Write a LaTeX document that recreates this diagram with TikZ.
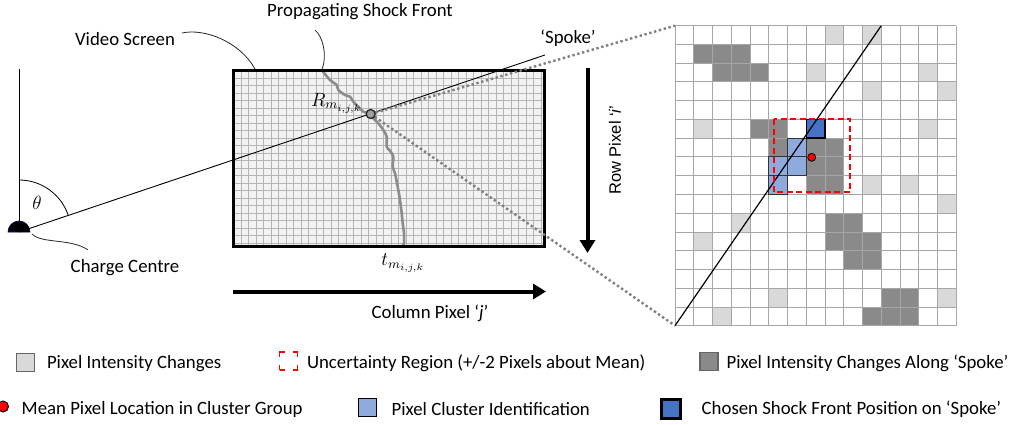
\documentclass[tikz,border=0pt]{standalone}
\usepackage{graphicx}
\usepackage{fontspec}
\setmainfont{Carlito}
\newfontfamily\arialf{Liberation Sans}
\usetikzlibrary{arrows.meta}
\definecolor{lgcell}{HTML}{D9D9D9}
\definecolor{dgcell}{HTML}{8A8A8A}
\definecolor{lbcell}{HTML}{8FAADC}
\definecolor{dbcell}{HTML}{4472C4}
\definecolor{gridc}{HTML}{A6A6A6}
\definecolor{scrgrid}{HTML}{B5B5B5}
\definecolor{scrfill}{HTML}{F2F2F2}
\definecolor{shockc}{HTML}{8C8C8C}
\definecolor{dotc}{HTML}{808080}
\newcommand{\bigmath}[1]{\scalebox{1.6}{$#1$}}
\tikzset{
  lbl/.style={inner sep=0pt, outer sep=0pt},
  mathlbl/.style={inner sep=0pt, outer sep=0pt, font=\fontsize{12}{14}\selectfont},
  leader/.style={draw=black!85, line width=0.8pt},
  legsq/.style={minimum size=18pt, inner sep=0pt, outer sep=0pt, line width=1.2pt},
  dotline/.style={draw=dotc, line width=2.4pt, dash pattern=on 2.4pt off 2.6pt},
  bigarrow/.style={line width=4pt, -{Triangle[length=13pt,width=15pt]}},
  scrline/.style={draw=scrgrid, line width=0.8pt},
  gline/.style={draw=gridc, line width=0.9pt},
}
\begin{document}
\begin{tikzpicture}[x=1pt,y=-1pt,font=\fontsize{18.8}{22}\selectfont]
\path[use as bounding box] (0,0) rectangle (1023,425);

% ---------- charge centre ----------
\coordinate (cc) at (19,232);
\coordinate (vtop) at (19,69);
\coordinate (Rp) at (370.7,114);
\coordinate (spokeend) at (545,55);
\draw[line width=1pt] (cc) -- (vtop);
\draw[line width=0.8pt] (19,180) arc[start angle=90, end angle=18.55, radius=52pt];
\node[mathlbl] (thetalab) at (37,203) {\bigmath{\theta}};

% ---------- video screen ----------
\fill[scrfill] (233.5,70.5) rectangle (544.5,246.5);
\foreach \i in {1,...,41} \draw[scrline] ({233.5+7.5*\i},70.5) -- ({233.5+7.5*\i},246.5);
\foreach \i in {1,...,23} \draw[scrline] (233.5,{70.5+7.5*\i}) -- (544.5,{70.5+7.5*\i});

% shock front
\draw[shockc, line width=2.6pt, line join=round, line cap=round] plot[smooth, tension=0.5] coordinates {
 (321.7,70) (330,80) (336.7,85) (338.3,90) (345,95) (350,96.7) (353.3,101.7) (358.3,106.7)
 (363.3,111.7) (368.3,113.3) (373.3,118.3) (378.3,123.3) (383.3,130) (386.7,136.7) (386.7,146.7)
 (390,150.7) (393.3,156.7) (392.7,166.7) (395,173.3) (396.7,181.7) (398.3,190) (400,200)
 (401.7,213.3) (402.7,223.3) (404,233.3) (404,243.3) (401.7,247)};

% spoke line
\draw[line width=0.9pt] (cc) -- (spokeend);

\node[draw, line width=3.5pt, minimum width=311pt, minimum height=176pt, inner sep=0pt, outer sep=0pt, anchor=north west] (screen) at (233.5,70.5) {};

% charge dome
\draw[fill=black, draw=blue!30!black, line width=0.6pt] (8,232) arc[start angle=180, end angle=0, radius=11pt] -- cycle;

% ---------- zoomed grid ----------
\node[minimum width=281.25pt, minimum height=300pt, inner sep=0pt, outer sep=0pt, anchor=north west] (zoomgrid) at (675,25.7) {};
\foreach \c/\r in {8/0,10/0,7/2,13/2,10/3,14/3,1/5,13/5,10/8,12/8,14/9,3/10,1/11,5/14,14/14,2/15}
  \fill[lgcell] ({675+18.75*\c},{25.7+18.75*\r}) rectangle ++(18.75,18.75);
\foreach \c/\r in {1/1,2/1,3/1,2/2,3/2,4/2,4/5,5/5,5/6,7/6,8/6,7/7,8/7,7/8,8/8,8/10,9/10,8/11,9/11,10/11,9/12,10/12,11/14,12/14,10/15,11/15,12/15}
  \fill[dgcell] ({675+18.75*\c},{25.7+18.75*\r}) rectangle ++(18.75,18.75);
\foreach \i in {0,...,15} \draw[gline] ({675+18.75*\i},25.7) -- ({675+18.75*\i},325.7);
\foreach \i in {0,...,16} \draw[gline] (675,{25.7+18.75*\i}) -- (956.25,{25.7+18.75*\i});
\foreach \c/\r in {6/6,5/7,6/7,5/8}
  \draw[fill=lbcell, draw=black!80, line width=1pt] ({675+18.75*\c},{25.7+18.75*\r}) rectangle ++(18.75,18.75);
\draw[fill=dbcell, draw=black, line width=1.4pt] ({675+18.75*7},{25.7+18.75*5}) rectangle ++(18.75,18.75);
\coordinate (gtop) at (881.25,25.7);
\draw[line width=1.2pt] (zoomgrid.south west) -- (gtop);
\draw[red, line width=1.7pt, dash pattern=on 6pt off 3.5pt] (774,119.1) rectangle (850,192);
\node[circle, fill=red, draw=black, line width=0.8pt, minimum size=8pt, inner sep=0pt] (meanpt) at (811.7,157.3) {};

% dotted zoom lines
\draw[dotline] (Rp) -- (zoomgrid.north west);
\draw[dotline] (Rp) -- (zoomgrid.south west);
\node[circle, draw=black!85, fill=gray!75, line width=1.3pt, minimum size=9pt, inner sep=0pt] (Rnode) at (Rp) {};

% ---------- labels and leaders ----------
\node[lbl] (vslab) at (125,39) {Video Screen};
\node[lbl] (cclab) at (125,268) {Charge Centre};
\node[lbl] (pslab) at (360,12) {Propagating Shock Front};
\node[lbl] (spokelab) at (568,38) {‘Spoke’};
\node[mathlbl, anchor=east] (Rlab) at (362,103) {\bigmath{R_{m_{i,j,k}}}};
\node[mathlbl] (tlab) at (403,263) {\bigmath{t_{m_{i,j,k}}}};
\coordinate (vsend) at (255,69);
\coordinate (psend) at (321.7,70);
\coordinate (ccend) at (32,234);
\draw[leader] ([xshift=7pt,yshift=6pt]vslab.east) .. controls (205,28) and (240,42) .. (vsend);
\draw[leader] ([xshift=-45pt,yshift=-10pt]pslab.south) .. controls (322,35) and (328,55) .. (psend);
\draw[leader] (ccend) .. controls (42,244) and (70,238) .. ([xshift=-37pt,yshift=10pt]cclab.north);

% ---------- pixel axes ----------
\coordinate (rowtop) at (587.5,68);
\coordinate (rowbot) at (587.5,253);
\coordinate (colleft) at (233,291.5);
\coordinate (colright) at (546,291.5);
\draw[bigarrow] (rowtop) -- (rowbot);
\draw[bigarrow] (colleft) -- (colright);
\node[lbl, rotate=90, font=\arialf\fontsize{16.5}{19}\selectfont] (rowlab) at (615,150) {Row Pixel ‘\textit{i}’};
\node[lbl] (collab) at (430,313) {Column Pixel ‘\textit{j}’};

% ---------- legend ----------
\node[legsq, fill=lgcell, draw=black!60] (lg1) at (25.8,362.8) {};
\node[lbl, anchor=west] (lt1) at (47,363.3) {Pixel Intensity Changes};
\node[legsq, draw=red, dash pattern=on 5pt off 8pt on 5pt off 0pt] (lg2) at (288.5,361) {};
\node[lbl, anchor=west] (lt2) at (307,363.3) {Uncertainty Region (+/-2 Pixels about Mean)};
\node[legsq, fill=dgcell, draw=black!60] (lg3) at (709,361.7) {};
\node[lbl, anchor=west] (lt3) at (726.7,363.3) {Pixel Intensity Changes Along ‘Spoke’};
\node[circle, fill=red, draw=black, line width=1pt, minimum size=11pt, inner sep=0pt] (lg4) at (3,406.5) {};
\node[lbl, anchor=west] (lt4) at (21.7,409.3) {Mean Pixel Location in Cluster Group};
\node[legsq, fill=lbcell, draw=black] (lg5) at (367.5,407.8) {};
\node[lbl, anchor=west] (lt5) at (391.7,409.3) {Pixel Cluster Identification};
\node[legsq, fill=dbcell, draw=black, line width=2.5pt, minimum size=19pt] (lg6) at (671,409) {};
\node[lbl, anchor=west] (lt6) at (701.7,409.3) {Chosen Shock Front Position on ‘Spoke’};
\end{tikzpicture}
\end{document}
